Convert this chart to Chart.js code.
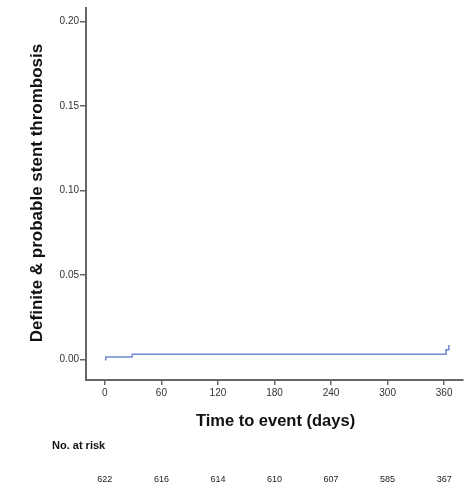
<!DOCTYPE html>
<html>
<head>
<meta charset="utf-8">
<script src="https://cdn.jsdelivr.net/npm/chart.js@4.4.1/dist/chart.umd.min.js"></script>
<style>
  html, body { margin: 0; padding: 0; background: #fff; }
  #wrap { width: 475px; height: 485px; position: relative; }
</style>
</head>
<body>
<div id="wrap"><canvas id="km"></canvas></div>
<script>
// Cumulative incidence of definite & probable stent thrombosis (Kaplan-Meier style steps)
const eventDays = [0, 1, 29, 362, 365];
const cumIncidence = [0, 0.0016, 0.0032, 0.0059, 0.0087];

const xTickValues = [0, 60, 120, 180, 240, 300, 360];
const yTickValues = [0, 0.05, 0.10, 0.15, 0.20];

const riskDays = [0, 60, 120, 180, 240, 300, 360];
const riskCounts = [622, 616, 614, 610, 607, 585, 367];

const yTitle = 'Definite & probable stent thrombosis';
const xTitle = 'Time to event (days)';
const riskTitle = 'No. at risk';

const axisColor = '#666666';
const textColor = '#333333';
const FONT = 'Arial, "Liberation Sans", sans-serif';

const outsideText = {
  id: 'outsideText',
  afterDraw(chart) {
    const { ctx, chartArea, scales } = chart;
    ctx.save();
    ctx.fillStyle = '#111';
    ctx.textAlign = 'center';
    ctx.textBaseline = 'middle';
    // y-axis title
    ctx.font = 'bold 17px ' + FONT;
    ctx.save();
    ctx.translate(37, 193);
    ctx.rotate(-Math.PI / 2);
    ctx.fillText(yTitle, 0, 0);
    ctx.restore();
    // x-axis title
    ctx.font = 'bold 16.5px ' + FONT;
    ctx.fillText(xTitle, (chartArea.left + chartArea.right) / 2 + 1, 421);
    // number at risk table
    ctx.font = 'bold 11px ' + FONT;
    ctx.textAlign = 'left';
    ctx.fillText(riskTitle, 52, 446);
    ctx.font = '9px ' + FONT;
    ctx.fillStyle = '#222';
    ctx.textAlign = 'center';
    riskDays.forEach((d, i) => {
      ctx.fillText(String(riskCounts[i]), scales.x.getPixelForValue(d), 480);
    });
    ctx.restore();
  }
};

new Chart(document.getElementById('km'), {
  type: 'line',
  data: {
    datasets: [{
      data: eventDays.map((d, i) => ({ x: d, y: cumIncidence[i] })),
      stepped: true,
      borderColor: '#7088D2',
      borderWidth: 1.5,
      pointRadius: 0,
      fill: false
    }]
  },
  options: {
    responsive: true,
    maintainAspectRatio: false,
    animation: false,
    layout: { padding: { top: 8, right: 12, left: 0, bottom: 0 } },
    plugins: { legend: { display: false }, tooltip: { enabled: false } },
    scales: {
      x: {
        type: 'linear',
        min: -20,
        max: 380,
        afterBuildTicks(scale) { scale.ticks = xTickValues.map(v => ({ value: v })); },
        afterFit(scale) { scale.height = 105; },
        border: { display: true, color: axisColor, width: 2 },
        grid: { drawOnChartArea: false, tickLength: 5, color: axisColor, lineWidth: 1.5 },
        ticks: { color: textColor, font: { family: FONT, size: 10 }, padding: 2, maxRotation: 0 }
      },
      y: {
        type: 'linear',
        min: -0.012,
        max: 0.208,
        afterBuildTicks(scale) { scale.ticks = yTickValues.map(v => ({ value: v })); },
        afterFit(scale) { scale.width = 86; },
        border: { display: true, color: axisColor, width: 2 },
        grid: { drawOnChartArea: false, tickLength: 6, color: axisColor, lineWidth: 1.5 },
        ticks: {
          color: textColor,
          font: { family: FONT, size: 10 },
          padding: 1,
          callback: v => Number(v).toFixed(2)
        }
      }
    }
  },
  plugins: [outsideText]
});
</script>
</body>
</html>
